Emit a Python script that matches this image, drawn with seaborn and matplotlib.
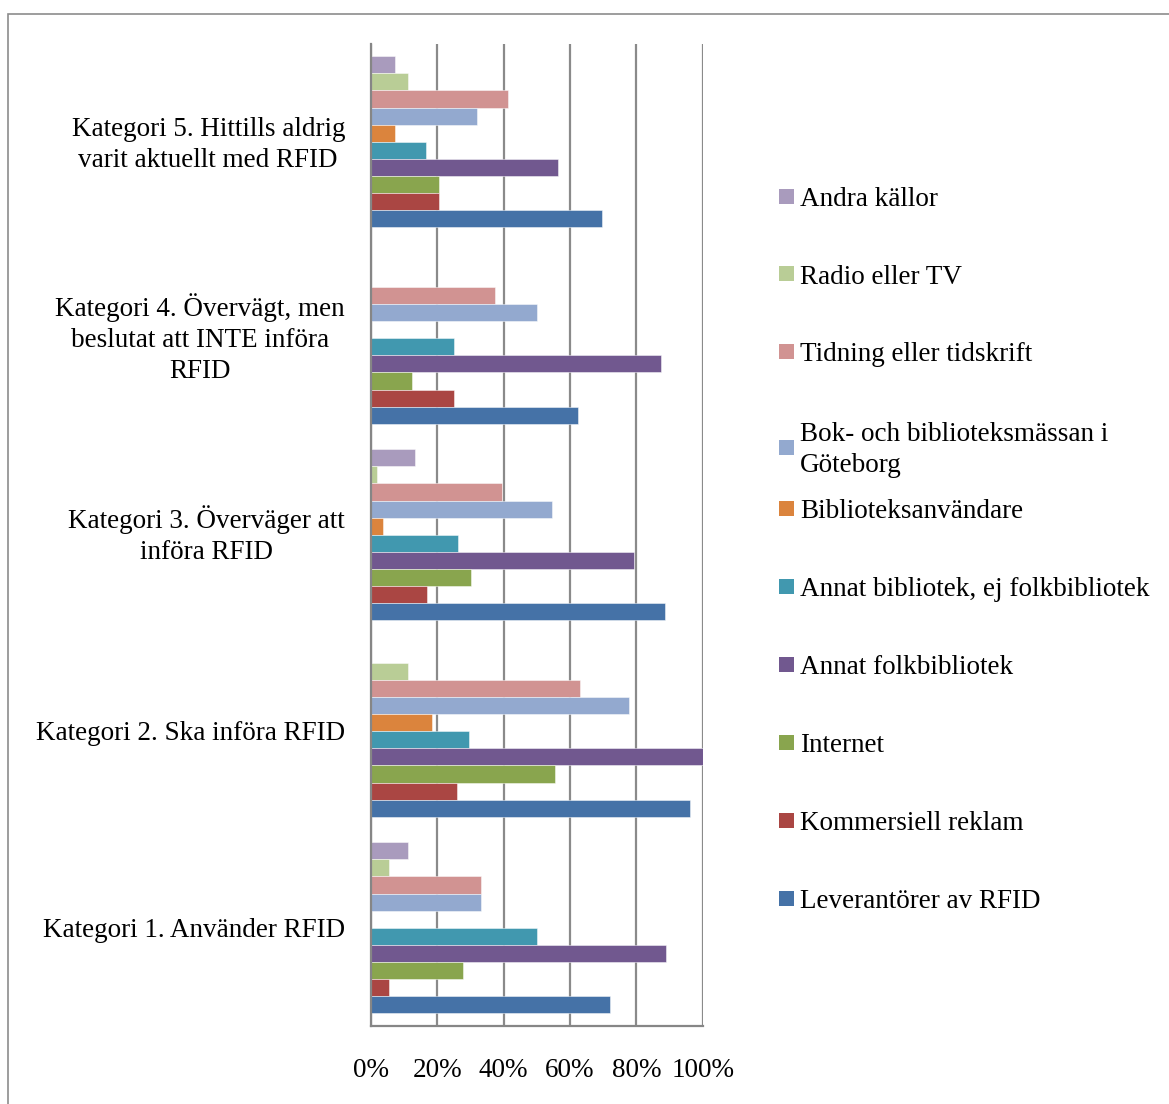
import numpy as np
import pandas as pd
import matplotlib
matplotlib.use("Agg")
import matplotlib.pyplot as plt
from matplotlib.patches import Rectangle
from matplotlib.ticker import FuncFormatter
from matplotlib.transforms import ScaledTranslation
import seaborn as sns

# Survey categories (top to bottom as drawn)
categories = [
    "Kategori 5. Hittills aldrig\nvarit aktuellt med RFID",
    "Kategori 4. Övervägt, men\nbeslutat att INTE införa\nRFID",
    "Kategori 3. Överväger att\ninföra RFID",
    "Kategori 2. Ska införa RFID",
    "Kategori 1. Använder RFID",
]

# Information sources (top to bottom within each group)
sources = [
    "Andra källor",
    "Radio eller TV",
    "Tidning eller tidskrift",
    "Bok- och biblioteksmässan i\nGöteborg",
    "Biblioteksanvändare",
    "Annat bibliotek, ej folkbibliotek",
    "Annat folkbibliotek",
    "Internet",
    "Kommersiell reklam",
    "Leverantörer av RFID",
]

# Share of respondents (%) per category, same order as `categories`
andra_kallor        = [7.4, 0.0, 13.2, 0.0, 11.1]
radio_tv            = [11.1, 0.0, 1.9, 11.1, 5.6]
tidning             = [41.4, 37.5, 39.6, 63.0, 33.3]
bokmassan           = [31.9, 50.0, 54.7, 77.8, 33.3]
biblioteksanvandare = [7.4, 0.0, 3.8, 18.5, 0.0]
annat_bibliotek     = [16.7, 25.0, 26.4, 29.6, 50.0]
annat_folkbibliotek = [56.5, 87.5, 79.2, 100.0, 88.9]
internet            = [20.6, 12.5, 30.2, 55.6, 27.8]
kommersiell_reklam  = [20.6, 25.0, 17.0, 25.9, 5.6]
leverantorer        = [69.7, 62.5, 88.7, 96.3, 72.2]

colors = ["#A99BBD", "#B9CD96", "#D19392", "#93A9CF", "#DB843D",
          "#4198AF", "#71588F", "#89A54E", "#AA4643", "#4572A7"]

series = [andra_kallor, radio_tv, tidning, bokmassan, biblioteksanvandare,
          annat_bibliotek, annat_folkbibliotek, internet,
          kommersiell_reklam, leverantorer]

rows = []
for src, vals in zip(sources, series):
    for cat, v in zip(categories, vals):
        rows.append({"kategori": cat, "kalla": src, "andel": v})
df = pd.DataFrame(rows)

sns.set_style("white")
plt.rcParams["font.family"] = ["Liberation Serif", "DejaVu Serif"]
plt.rcParams["text.color"] = "black"
plt.rcParams["xtick.labelcolor"] = "black"
plt.rcParams["ytick.labelcolor"] = "black"
FS = 19.5
LS = 1.32
grey = "#868686"

W, H = 1169, 1104
fig = plt.figure(figsize=(W / 100, H / 100), dpi=100)
fig.subplots_adjust(left=370.7 / W, right=702.7 / W,
                    top=1 - 43.5 / H, bottom=1 - 1026 / H)
ax = fig.add_subplot(111)

sns.barplot(data=df, x="andel", y="kategori", hue="kalla",
            order=categories, hue_order=sources, palette=colors,
            orient="h", width=0.87, saturation=1, errorbar=None,
            legend=False, edgecolor=(1, 1, 1, 0.55), linewidth=0.6, ax=ax)

ax.set_xlim(0, 100)
ax.set_ylim(len(categories) - 0.5, -0.5)
ax.set_xlabel("")
ax.set_ylabel("")
ax.set_xticks(np.arange(0, 101, 20))
ax.xaxis.set_major_formatter(FuncFormatter(lambda v, p: f"{v:.0f}%"))
ax.set_axisbelow(True)
ax.grid(axis="x", color="#8a8a8a", linewidth=1.6)
ax.grid(axis="y", visible=False)

for s in ["top", "right"]:
    ax.spines[s].set_visible(False)
for s in ["left", "bottom"]:
    ax.spines[s].set_color(grey)
    ax.spines[s].set_linewidth(1.6)
    ax.spines[s].set_zorder(5)

# Category labels drawn as text next to the axis; small vertical nudges (px)
ax.set_yticks([])
ax.set_yticks(np.arange(-0.5, len(categories)), minor=True)
ax.tick_params(axis="y", which="minor", length=6, width=1.6, color=grey,
               direction="out")
ax.tick_params(axis="x", length=6, width=1.6, color=grey, pad=17,
               labelsize=FS, direction="out")
label_nudge = [-3, 0, 0, -2, -3]
for i, (cat, dy) in enumerate(zip(categories, label_nudge)):
    tr = ax.get_yaxis_transform() + ScaledTranslation(-25.7 / 100, dy / 100,
                                                      fig.dpi_scale_trans)
    ax.text(0, i, cat, transform=tr, ha="right", va="center",
            multialignment="center", linespacing=LS, fontsize=FS)

# Legend on the right
legend_y = [196, 274, 352, 447, 508, 586, 664, 742, 820, 898]
for src, col, yc in zip(sources, colors, legend_y):
    fig.patches.append(Rectangle((779 / W, 1 - (yc + 7.5) / H), 15 / W, 15 / H,
                                 transform=fig.transFigure, facecolor=col,
                                 edgecolor="none"))
    fig.text(800 / W, 1 - (yc + 3) / H, src, fontsize=FS, va="center",
             ha="left", linespacing=LS)

# Outer frame
fig.patches.append(Rectangle((8 / W, -0.1), 1.2, 1.1 - 14 / H,
                             transform=fig.transFigure, fill=False,
                             edgecolor="#8c8c8c", linewidth=1.2))

fig.savefig("out.png", dpi=100)
